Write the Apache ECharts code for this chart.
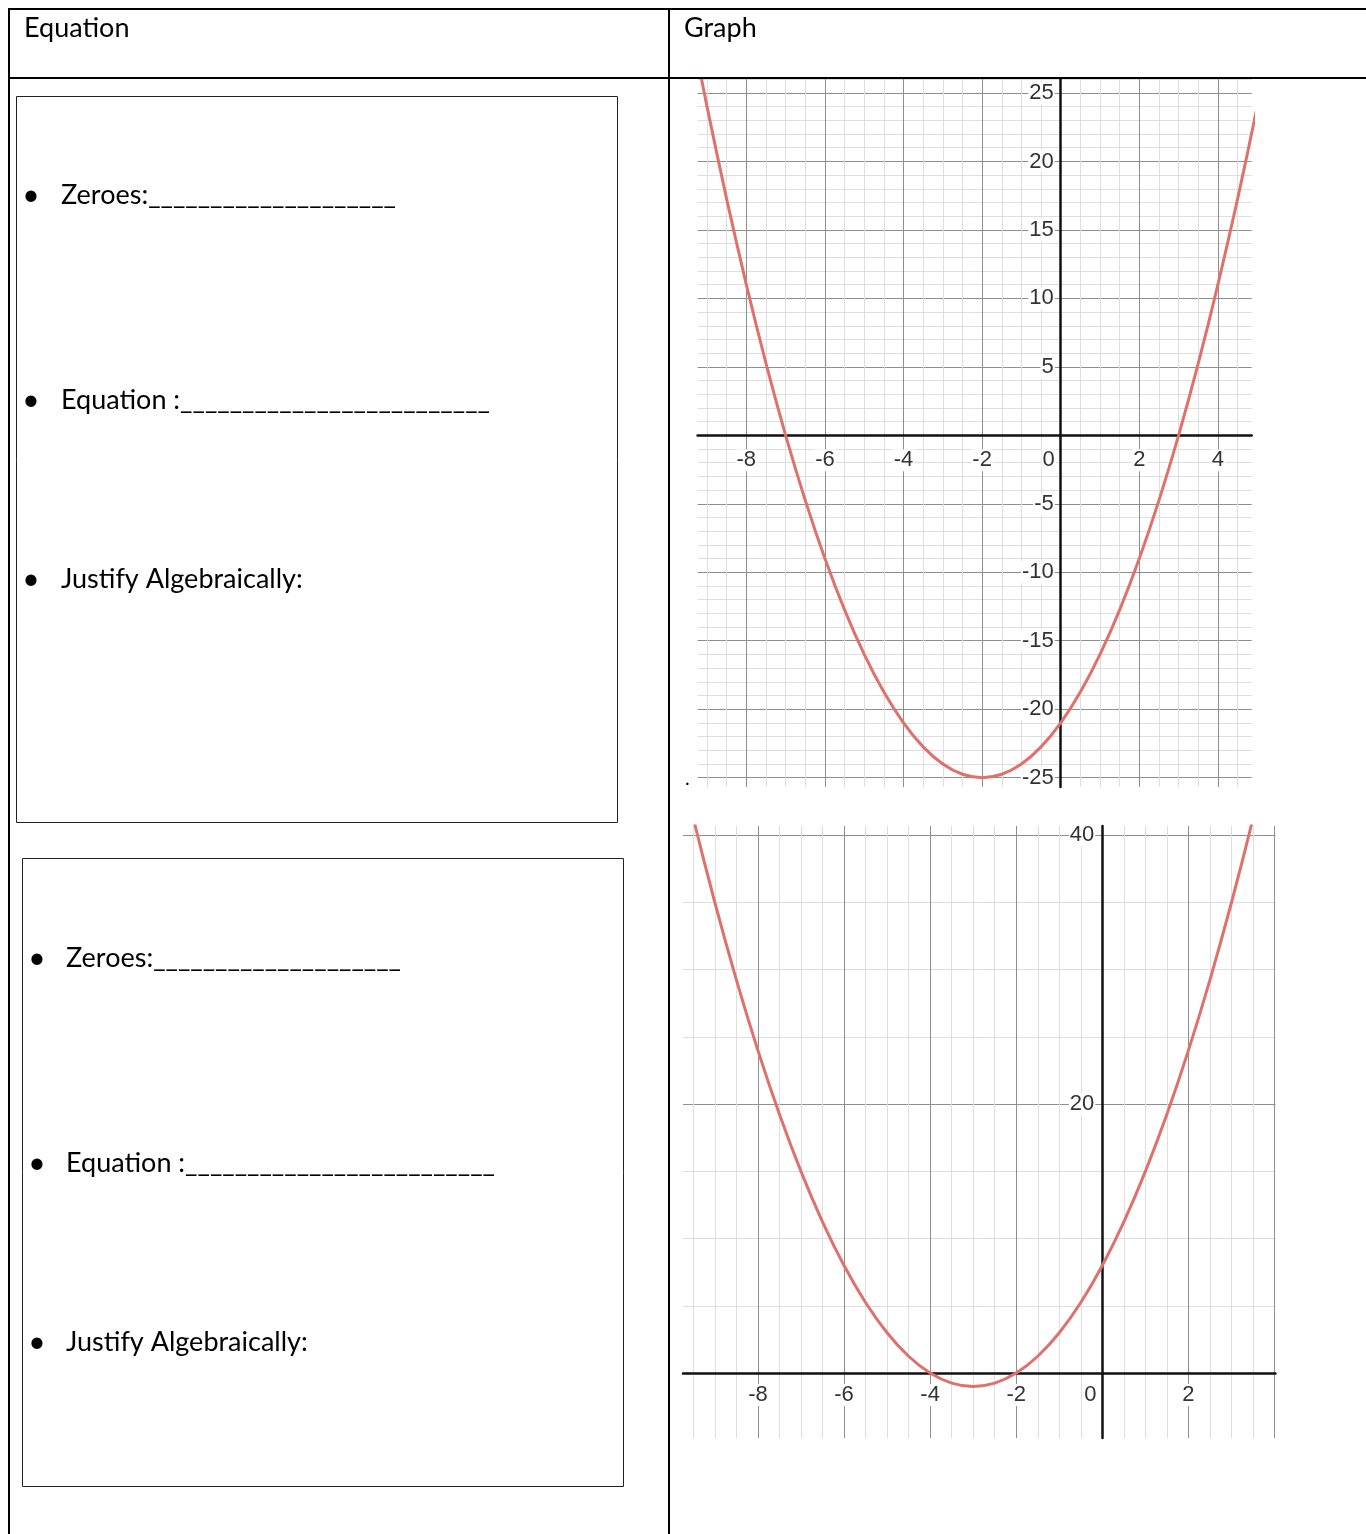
<!DOCTYPE html>
<html>
<head>
<meta charset="utf-8">
<title>Zeroes worksheet</title>
<script src="https://cdn.jsdelivr.net/npm/echarts@6/dist/echarts.min.js"></script>
<style>
html, body { margin: 0; padding: 0; background: #fff; }
#main { width: 1366px; height: 1534px; }
</style>
</head>
<body>
<div id="main"></div>
<script>
// graph 1 : curve, every half unit
var xs1 = [-9.5, -9, -8.5, -8, -7.5, -7, -6.5, -6, -5.5, -5, -4.5, -4, -3.5, -3, -2.5, -2,
           -1.5, -1, -0.5, 0, 0.5, 1, 1.5, 2, 2.5, 3, 3.5, 4, 4.5, 5, 5.5];
var ys1 = [31.25, 24, 17.25, 11, 5.25, 0, -4.75, -9, -12.75, -16, -18.75, -21, -22.75, -24, -24.75, -25,
           -24.75, -24, -22.75, -21, -18.75, -16, -12.75, -9, -4.75, 0, 5.25, 11, 17.25, 24, 31.25];

// graph 2
var xs2 = [-10, -9.5, -9, -8.5, -8, -7.5, -7, -6.5, -6, -5.5, -5, -4.5, -4, -3.5, -3, -2.5,
           -2, -1.5, -1, -0.5, 0, 0.5, 1, 1.5, 2, 2.5, 3, 3.5, 4, 4.5];
var ys2 = [48, 41.25, 35, 29.25, 24, 19.25, 15, 11.25, 8, 5.25, 3, 1.25, 0, -0.75, -1, -0.75,
           0, 1.25, 3, 5.25, 8, 11.25, 15, 19.25, 24, 29.25, 35, 41.25, 48, 55.25];

// tick labels shown on each axis
var xLabels1 = [-8, -6, -4, -2, 0, 2, 4];
var yLabels1 = [25, 20, 15, 10, 5, -5, -10, -15, -20, -25];
var xLabels2 = [-8, -6, -4, -2, 0, 2];
var yLabels2 = [20, 40];

var headers = ['Equation', 'Graph'];
var prompts = ['Zeroes:____________________', 'Equation :_________________________', 'Justify Algebraically:'];

var chart = echarts.init(document.getElementById('main'));

var labelFont = '"Liberation Sans", Arial, sans-serif';
var labelSize = 22;
var docFont = 'Lato, Carlito, Calibri, sans-serif';
var curveColor = '#de716c';

var grids = [
	{ left: 697.6, top: 79, width: 554.1, height: 708 },
	{ left: 683, top: 826, width: 592.4, height: 612 }
];

function pairs(xs, ys) {
	return xs.map(function (x, i) { return [x, ys[i]]; });
}

// move an axis from the grid edge to the zero of the other axis
function zeroOffset(min, max, size) {
	return -size * (0 - min) / (max - min);
}

function xAxisOf(grid, min, max, ymin, ymax, list, margin) {
	var lab = { backgroundColor: '#fff', padding: [0, 1], fontFamily: labelFont, fontSize: labelSize, color: '#333' };
	return {
		type: 'value', gridIndex: grid, min: min, max: max,
		position: 'bottom', offset: zeroOffset(ymin, ymax, grids[grid].height),
		splitNumber: 7, minInterval: 2, maxInterval: 2,
		axisLine: { onZero: false, lineStyle: { color: '#111', width: 2.5 } },
		axisTick: { show: false },
		axisLabel: {
			showMinLabel: false, showMaxLabel: false, margin: margin,
			fontFamily: labelFont, fontSize: labelSize, color: '#333',
			formatter: function (v) {
				if (list.indexOf(v) < 0) return '';
				if (v === 0) return '{z|0}{sp|}';
				return '{b|' + v + '}';
			},
			rich: { b: lab, z: lab, sp: { width: 24 } }
		},
		splitLine: { show: true, showMinLine: false, showMaxLine: false, lineStyle: { color: '#8e8e8e', width: 1 } },
		minorTick: { show: false, splitNumber: 4 },
		minorSplitLine: { show: true, lineStyle: { color: '#dedede', width: 1 } }
	};
}

function yAxisOf(grid, min, max, xmin, xmax, step, split, minor, list, margin) {
	var lab = { backgroundColor: '#fff', padding: [0, 1], fontFamily: labelFont, fontSize: labelSize, color: '#333' };
	return {
		type: 'value', gridIndex: grid, min: min, max: max,
		position: 'left', offset: zeroOffset(xmin, xmax, grids[grid].width),
		splitNumber: split, minInterval: step, maxInterval: step,
		axisLine: { onZero: false, lineStyle: { color: '#111', width: 2.5 } },
		axisTick: { show: false },
		axisLabel: {
			showMinLabel: false, showMaxLabel: false, margin: margin,
			fontFamily: labelFont, fontSize: labelSize, color: '#333',
			formatter: function (v) {
				return list.indexOf(v) < 0 ? '' : '{b|' + v + '}';
			},
			rich: { b: lab }
		},
		splitLine: { show: true, showMinLine: false, showMaxLine: false, lineStyle: { color: '#8e8e8e', width: 1 } },
		minorTick: { show: false, splitNumber: minor },
		minorSplitLine: { show: true, lineStyle: { color: '#dedede', width: 1 } }
	};
}

// table frame, boxes and the worksheet text
var shapes = [];
function hline(x1, x2, y, w, c) {
	shapes.push({ type: 'line', shape: { x1: x1, y1: y, x2: x2, y2: y }, style: { stroke: c, lineWidth: w }, z: 10 });
}
function vline(x, y1, y2, w, c) {
	shapes.push({ type: 'line', shape: { x1: x, y1: y1, x2: x, y2: y2 }, style: { stroke: c, lineWidth: w }, z: 10 });
}
function text(x, y, s, size, align) {
	shapes.push({ type: 'text', x: x, y: y, z: 10,
		style: { text: s, fontFamily: docFont, fontSize: size, fill: '#000', align: align || 'left', verticalAlign: 'middle' } });
}

hline(8, 1366, 9, 2, '#000');
hline(8, 1366, 78, 2, '#000');
vline(9, 8, 1534, 2, '#000');
vline(669, 8, 1534, 2, '#000');

text(24, 28, headers[0], 27);
text(684, 28, headers[1], 27);

shapes.push({ type: 'rect', shape: { x: 16.5, y: 96.5, width: 601, height: 726 }, style: { fill: null, stroke: '#222', lineWidth: 1 }, z: 10 });
shapes.push({ type: 'rect', shape: { x: 22.5, y: 858.5, width: 601, height: 628 }, style: { fill: null, stroke: '#222', lineWidth: 1 }, z: 10 });

var rows1 = [195, 400, 579];
var rows2 = [958, 1163, 1342];
prompts.forEach(function (p, i) {
	text(31, rows1[i], '\u2022', 30, 'center');
	text(61, rows1[i], p, 27);
	text(37, rows2[i], '\u2022', 30, 'center');
	text(66, rows2[i], p, 27);
});
text(685, 779, '.', 20);

var option = {
	animation: false,
	backgroundColor: '#fff',
	graphic: shapes,
	grid: grids,
	xAxis: [
		xAxisOf(0, -9.24, 4.86, -25.68, 26.02, xLabels1, 14),
		xAxisOf(1, -9.74, 4.02, -4.83, 40.69, xLabels2, 11)
	],
	yAxis: [
		yAxisOf(0, -25.68, 26.02, -9.24, 4.86, 5, 10, 5, yLabels1, 6),
		yAxisOf(1, -4.83, 40.69, -9.74, 4.02, 20, 2, 4, yLabels2, 7)
	],
	series: [
		{
			type: 'line', xAxisIndex: 0, yAxisIndex: 0,
			data: pairs(xs1, ys1),
			showSymbol: false, smooth: 0.3, clip: true,
			lineStyle: { color: curveColor, width: 3 }, itemStyle: { color: curveColor }
		},
		{
			type: 'line', xAxisIndex: 1, yAxisIndex: 1,
			data: pairs(xs2, ys2),
			showSymbol: false, smooth: 0.3, clip: true,
			lineStyle: { color: curveColor, width: 3 }, itemStyle: { color: curveColor }
		}
	]
};
chart.setOption(option);
</script>
</body>
</html>
